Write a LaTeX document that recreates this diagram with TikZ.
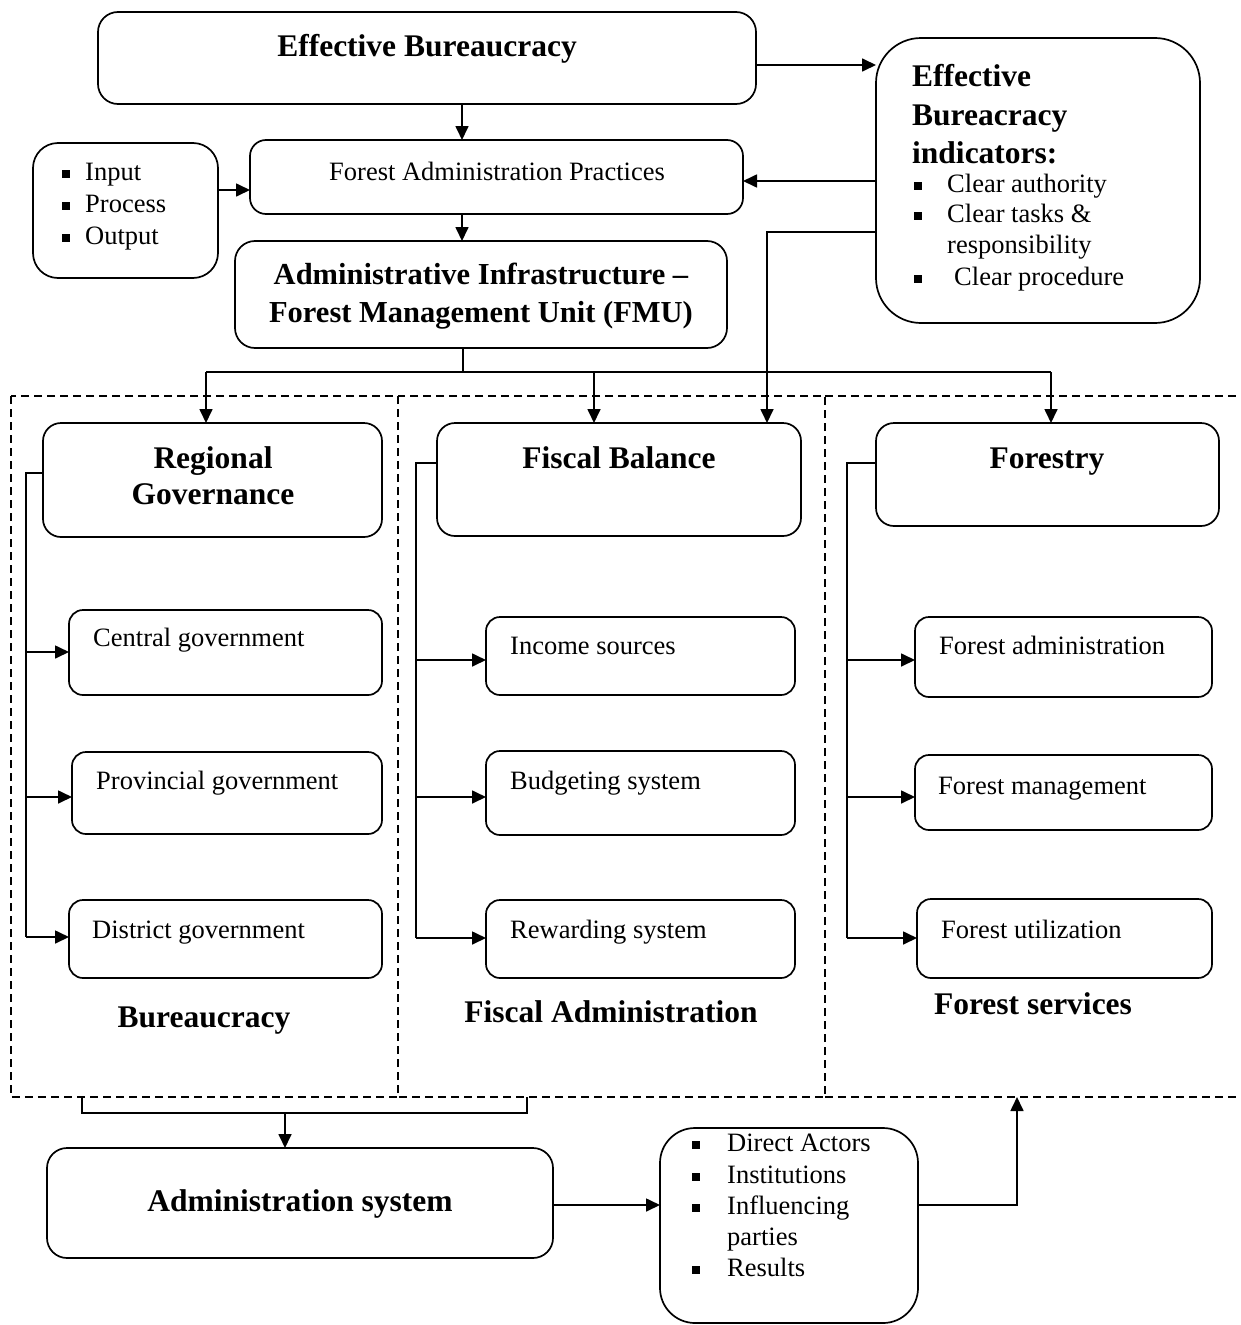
\documentclass[tikz,border=0pt]{standalone}
\usepackage{fontspec}
\setmainfont{Liberation Serif}
\usetikzlibrary{arrows.meta}
\newcommand\sqb{\raisebox{2.5pt}{\rule{8pt}{8pt}}}
\newcommand\bul[1]{\makebox[#1][l]{\sqb}}
\newcommand\rbox[6]{\node[box,rounded corners=#6,minimum width={#4pt-#2pt},minimum height={#5pt-#3pt}] (#1) at ({(#2+#4)/2},{(#3+#5)/2}) {};}
\begin{document}
\begin{tikzpicture}[x=1pt,y=-1pt,
  box/.style={draw,line width=1.7pt,inner sep=0pt,outer sep=0pt},
  arr/.style={line width=1.7pt,-{Triangle[length=14pt,width=13pt]}},
  ln/.style={line width=1.7pt},
  dsh/.style={line width=1.4pt,dash pattern=on 8pt off 5pt},
  big/.style={inner sep=0pt,font=\fontsize{31.5}{35}\selectfont\bfseries},
  mid/.style={inner sep=0pt,font=\fontsize{30.5}{34}\selectfont\bfseries},
  reg/.style={inner sep=0pt,font=\fontsize{26.5}{30}\selectfont}]
\useasboundingbox (0,0) rectangle (1240,1325);

% dashed regions
\draw[dsh] (11,396) rectangle (398,1097);
\draw[dsh] (398,396) rectangle (825,1097);
\draw[dsh] (825,396) -- (1240,396);
\draw[dsh] (825,1097) -- (1240,1097);

% boxes
\rbox{EB}{98}{12}{756}{104}{20pt}
\rbox{IND}{876}{38}{1200}{323}{45pt}
\rbox{FAP}{250}{140}{743}{214}{16pt}
\rbox{INP}{33}{143}{218}{278}{25pt}
\rbox{AI}{235}{241}{727}{348}{20pt}
\rbox{RG}{43}{423}{382}{537}{18pt}
\rbox{FB}{437}{423}{801}{536}{18pt}
\rbox{FO}{876}{423}{1219}{526}{18pt}
\rbox{CG}{69}{610}{382}{695}{14pt}
\rbox{PG}{72}{752}{382}{834}{14pt}
\rbox{DG}{69}{900}{382}{978}{14pt}
\rbox{IS}{486}{617}{795}{695}{14pt}
\rbox{BS}{486}{751}{795}{835}{14pt}
\rbox{RS}{486}{900}{795}{978}{14pt}
\rbox{FAD}{915}{617}{1212}{697}{14pt}
\rbox{FM}{915}{755}{1212}{830}{14pt}
\rbox{FU}{917}{899}{1212}{978}{14pt}
\rbox{AS}{47}{1148}{553}{1258}{20pt}
\rbox{ACT}{660}{1128}{918}{1323}{35pt}

% texts
\node[big,anchor=base] (tEB) at (427,56) {Effective Bureaucracy};
\node[big,anchor=base west] (tI1) at (912,86) {Effective};
\node[big,anchor=base west] (tI2) at (912,125) {Bureacracy};
\node[big,anchor=base west] (tI3) at (912,163) {indicators:};
\node[reg,anchor=base west] (tI4) at (914,192) {\bul{33pt}Clear authority};
\node[reg,anchor=base west] (tI5) at (914,222) {\bul{33pt}Clear tasks \&};
\node[reg,anchor=base west] (tI6) at (947,253) {responsibility};
\node[reg,anchor=base west] (tI7) at (914,285) {\bul{40pt}Clear procedure};
\node[reg,anchor=base] (tFAP) at (497,180) {Forest Administration Practices};
\node[reg,anchor=base west] (tP1) at (62,180) {\bul{23pt}Input};
\node[reg,anchor=base west] (tP2) at (62,212) {\bul{23pt}Process};
\node[reg,anchor=base west] (tP3) at (62,244) {\bul{23pt}Output};
\node[mid,anchor=base] (tAI1) at (481,284) {Administrative Infrastructure --};
\node[mid,anchor=base] (tAI2) at (481,322) {Forest Management Unit (FMU)};
\node[big,anchor=base] (tRG1) at (213,468) {Regional};
\node[big,anchor=base] (tRG2) at (213,504) {Governance};
\node[big,anchor=base] (tFB) at (619,468) {Fiscal Balance};
\node[big,anchor=base] (tFO) at (1047,468) {Forestry};
\node[reg,anchor=base west] (tCG) at (93,646) {Central government};
\node[reg,anchor=base west] (tPG) at (96,789) {Provincial government};
\node[reg,anchor=base west] (tDG) at (92,938) {District government};
\node[reg,anchor=base west] (tIS) at (510,654) {Income sources};
\node[reg,anchor=base west] (tBS) at (510,789) {Budgeting system};
\node[reg,anchor=base west] (tRS) at (510,938) {Rewarding system};
\node[reg,anchor=base west] (tFAD) at (939,654) {Forest administration};
\node[reg,anchor=base west] (tFM) at (938,794) {Forest management};
\node[reg,anchor=base west] (tFU) at (941,938) {Forest utilization};
\node[big,anchor=base] (tB) at (204,1027) {Bureaucracy};
\node[big,anchor=base] (tFA) at (611,1022) {Fiscal Administration};
\node[big,anchor=base] (tFS) at (1033,1014) {Forest services};
\node[big,anchor=base] (tAS) at (300,1211) {Administration system};
\node[reg,anchor=base west] (tA1) at (692,1151) {\bul{35pt}Direct Actors};
\node[reg,anchor=base west] (tA2) at (692,1183) {\bul{35pt}Institutions};
\node[reg,anchor=base west] (tA3) at (692,1214) {\bul{35pt}Influencing};
\node[reg,anchor=base west] (tA4) at (727,1245) {parties};
\node[reg,anchor=base west] (tA5) at (692,1276) {\bul{35pt}Results};

% coordinates
\coordinate (hub) at (463,372);
\coordinate (hubL) at (206,372);
\coordinate (hubM) at (594,372);
\coordinate (hubR) at (1051,372);
\coordinate (rgb) at (26,473);
\coordinate (fbb) at (416,463);
\coordinate (fob) at (847,463);
\coordinate (brL) at (82,1113);
\coordinate (brR) at (527,1113);
\coordinate (brM) at (285,1113);
\coordinate (up) at (1017,1097);

% connectors
\draw[arr] (EB.east |- 0,65) -- (IND.west |- 0,65);
\draw[arr] (EB.south -| 462,0) -- (FAP.north -| 462,0);
\draw[arr] (INP.east |- 0,190) -- (FAP.west |- 0,190);
\draw[arr] (IND.west |- 0,181) -- (FAP.east |- 0,181);
\draw[arr] (FAP.south -| 462,0) -- (AI.north -| 462,0);
\draw[arr] (IND.west |- 0,232) -| (FB.north -| 767,0);
\draw[ln] (AI.south -| hub) -- (hub);
\draw[ln] (hubL) -- (hubR);
\draw[arr] (hubL) -- (RG.north -| hubL);
\draw[arr] (hubM) -- (FB.north -| hubM);
\draw[arr] (hubR) -- (FO.north -| hubR);

\draw[ln] (RG.west |- rgb) -- (rgb) -- (26,937);
\draw[arr] (26,652) -- (CG.west |- 0,652);
\draw[arr] (26,797) -- (PG.west |- 0,797);
\draw[arr] (26,937) -- (DG.west |- 0,937);

\draw[ln] (FB.west |- fbb) -- (fbb) -- (416,938);
\draw[arr] (416,660) -- (IS.west |- 0,660);
\draw[arr] (416,797) -- (BS.west |- 0,797);
\draw[arr] (416,938) -- (RS.west |- 0,938);

\draw[ln] (FO.west |- fob) -- (fob) -- (847,938);
\draw[arr] (847,660) -- (FAD.west |- 0,660);
\draw[arr] (847,797) -- (FM.west |- 0,797);
\draw[arr] (847,938) -- (FU.west |- 0,938);

\draw[ln] (82,1097) -- (brL) -- (brR) -- (527,1097);
\draw[arr] (brM) -- (AS.north -| brM);
\draw[arr] (AS.east |- 0,1205) -- (ACT.west |- 0,1205);
\draw[arr] (ACT.east |- 0,1205) -| (up);
\end{tikzpicture}
\end{document}
